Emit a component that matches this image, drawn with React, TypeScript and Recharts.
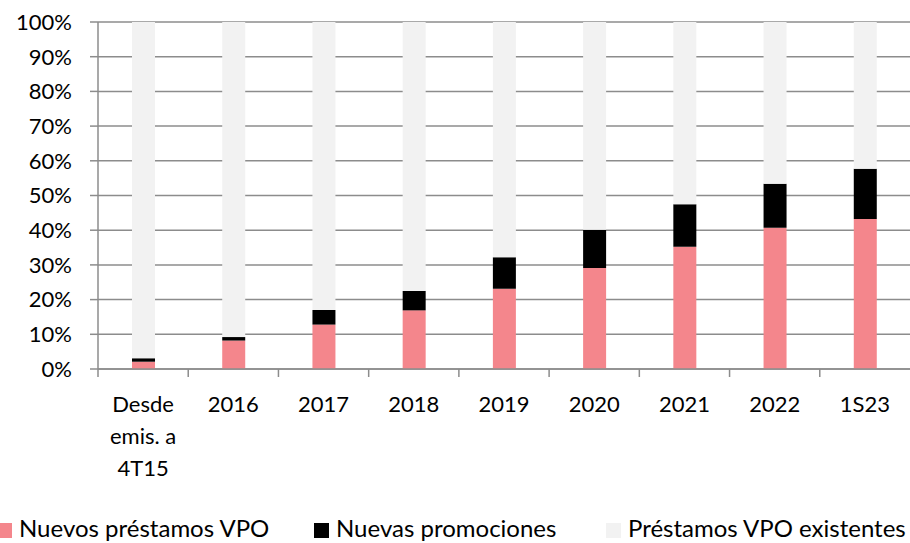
import { BarChart, Bar, XAxis, YAxis, CartesianGrid, Legend } from "recharts";

const categories = ["Desde\nemis. a\n4T15", "2016", "2017", "2018", "2019", "2020", "2021", "2022", "1S23"];
const nuevosPrestamos = [2.1, 8.2, 12.8, 16.9, 23.1, 29.1, 35.2, 40.7, 43.2];
const nuevasPromociones = [1.0, 1.0, 4.2, 5.6, 9.1, 11.0, 12.3, 12.7, 14.5];
const yTicks = [0, 10, 20, 30, 40, 50, 60, 70, 80, 90, 100];
const seriesNames = ["Nuevos préstamos VPO", "Nuevas promociones", "Préstamos VPO existentes"];

const PINK = "#F4868C";
const BLACK = "#000000";
const LIGHT = "#F2F2F2";
const GRID = "#8C8C8C";
const FONT = "Lato, 'Open Sans', sans-serif";

const data = categories.map((c, i) => ({
  name: c,
  nuevos: nuevosPrestamos[i],
  promo: nuevasPromociones[i],
  existentes: +(100 - nuevosPrestamos[i] - nuevasPromociones[i]).toFixed(1),
}));

const BAND = 812 / categories.length;

function XTick(props: any) {
  const { x, y, payload } = props;
  const lines = String(payload.value).split("\n");
  return (
    <g>
      <line x1={x - BAND / 2} x2={x - BAND / 2} y1={y - 8} y2={y} stroke={GRID} strokeWidth={1.5} />
      <text x={x} y={y} textAnchor="middle" fill="#000" fontSize={22} fontFamily={FONT}>
        {lines.map((l, i) => (
          <tspan key={i} x={x} dy={i === 0 ? 35 : 32}>
            {l}
          </tspan>
        ))}
      </text>
    </g>
  );
}

const legendColors = [PINK, BLACK, LIGHT];
const legendX = [-3, 314, 606];

function LegendContent() {
  return (
    <svg width={910} height={64} style={{ display: "block" }}>
      {seriesNames.map((name, i) => (
        <g key={name}>
          <rect x={legendX[i]} y={44} width={15} height={15} fill={legendColors[i]} />
          <text x={legendX[i] + 22} y={58} fontSize={24} fontFamily={FONT} fill="#000">
            {name}
          </text>
        </g>
      ))}
    </svg>
  );
}

export default function App() {
  return (
    <div style={{ position: "fixed", left: 0, top: 0, width: 910, height: 543, background: "#fff" }}>
      <BarChart
        width={910}
        height={543}
        data={data}
        margin={{ top: 22, right: 0, left: 0, bottom: 0 }}
        barCategoryGap={0}
      >
        <CartesianGrid vertical={false} stroke={GRID} strokeWidth={1.5} />
        <YAxis
          width={98}
          domain={[0, 100]}
          ticks={yTicks}
          tickFormatter={(v: number) => `${v}%`}
          axisLine={{ stroke: GRID, strokeWidth: 1.5 }}
          tickLine={{ stroke: GRID, strokeWidth: 1.5 }}
          tickSize={8}
          tickMargin={18}
          tick={{ fill: "#000", fontSize: 22, fontFamily: FONT }}
        />
        <XAxis
          dataKey="name"
          height={110}
          interval={0}
          axisLine={{ stroke: GRID, strokeWidth: 1.5 }}
          tickLine={false}
          tickSize={8}
          tickMargin={0}
          tick={<XTick />}
        />
        <Legend verticalAlign="bottom" height={64} content={<LegendContent />} wrapperStyle={{ left: 0, bottom: 0, width: 910 }} />
        <Bar dataKey="nuevos" name={seriesNames[0]} stackId="a" fill={PINK} barSize={23} isAnimationActive={false} />
        <Bar dataKey="promo" name={seriesNames[1]} stackId="a" fill={BLACK} barSize={23} isAnimationActive={false} />
        <Bar dataKey="existentes" name={seriesNames[2]} stackId="a" fill={LIGHT} barSize={23} isAnimationActive={false} />
      </BarChart>
    </div>
  );
}
